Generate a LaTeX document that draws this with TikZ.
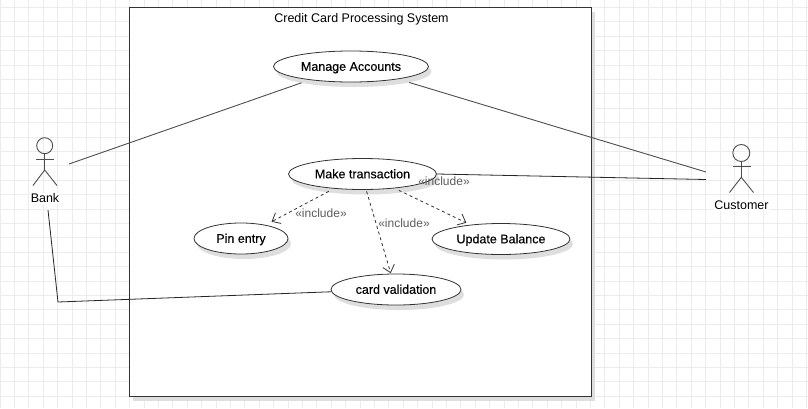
\documentclass[tikz,border=0pt]{standalone}
\usepackage{fontspec}
\setmainfont{Liberation Sans}
\newfontfamily\casefont[FakeBold=0.35]{Liberation Sans}
\usepackage{tikz}
\usetikzlibrary{shapes.geometric,arrows.meta,shadows}
\usepackage{xcolor}
\definecolor{Ink}{RGB}{51,51,51}
\definecolor{SoftInk}{RGB}{78,78,78}
\definecolor{GridLn}{RGB}{236,236,236}
\definecolor{ShadowGr}{RGB}{222,222,222}
\tikzset{
  softshadow/.style={general shadow={shadow xshift=3pt,shadow yshift=-4pt,fill=ShadowGr}},
  caseshadow/.style={general shadow={shadow xshift=3pt,shadow yshift=-5pt,fill=ShadowGr}},
  ucase/.style={ellipse,draw=Ink,fill=white,thick,inner sep=0pt,font=\casefont\fontsize{12.5}{14}\selectfont,
                text height=8.6pt,text depth=0pt,minimum height=31pt,caseshadow},
  ulabel/.style={font=\fontsize{12.5}{14}\selectfont,fill=white,inner sep=1pt},
  inclabel/.style={font=\fontsize{12}{14}\selectfont,text=Ink!80,inner sep=0pt},
  uline/.style={SoftInk,line width=0.9pt},
  ulink/.style={black!85,line width=0.8pt},
  uinc/.style={-{Straight Barb[length=7pt,width=12pt]},Ink,line width=0.8pt,dash pattern=on 3pt off 3pt},
  uactor/.style={SoftInk,line width=0.9pt},
}
\begin{document}
\begin{tikzpicture}[x=1pt,y=-1pt]
  \useasboundingbox (0,0) rectangle (808,408);
  \fill[white] (0,0) rectangle (808,408);
  \foreach \gx in {0,...,56} \draw[GridLn,line width=0.7pt] (14.4*\gx,0) -- (14.4*\gx,408);
  \foreach \gy in {0,...,28} \draw[GridLn,line width=0.7pt] (0,7.4+14.4*\gy) -- (808,7.4+14.4*\gy);
  %
  \node[rectangle,draw=Ink,thick,fill=white,softshadow,minimum width=462pt,minimum height=389pt,
        inner sep=0pt] (system) at (360.6,202) {};
  \node[font=\fontsize{12.5}{14}\selectfont,inner sep=0pt] (title) at (361.5,19.3) {Credit Card Processing System};
  %
  \node[ucase,minimum width=155pt] (manage) at (351,66.5) {Manage Accounts};
  \node[ucase,minimum width=148pt] (make) at (362.5,174) {Make transaction};
  \node[ucase,minimum width=94pt] (pin) at (241,238.5) {Pin entry};
  \node[ucase,minimum width=138pt] (update) at (501,239) {Update Balance};
  \node[ucase,minimum width=130pt] (card) at (396,289.5) {card validation};
  %
  % Bank
  \node[circle,draw=SoftInk,line width=0.9pt,minimum size=16pt,inner sep=0pt] (bankhead) at (44.7,145.7) {};
  \coordinate (bankhip) at (44.7,170);
  \coordinate (bankarml) at (36,159.3);
  \coordinate (bankarmr) at (53.5,159.3);
  \coordinate (banklegl) at (33,185.5);
  \coordinate (banklegr) at (57,185.5);
  \draw[uactor] (bankhead.south) -- (bankhip);
  \draw[uactor] (bankarml) -- (bankarmr);
  \draw[uactor] (banklegl) -- (bankhip) -- (banklegr);
  \node[ulabel] (bank) at (45,198.3) {Bank};
  %
  % Customer
  \node[circle,draw=SoftInk,line width=0.9pt,minimum size=17pt,inner sep=0pt] (custhead) at (741.3,153) {};
  \coordinate (custhip) at (741.3,177.3);
  \coordinate (custarml) at (733,166.7);
  \coordinate (custarmr) at (750.5,166.7);
  \coordinate (custlegl) at (729.5,192.5);
  \coordinate (custlegr) at (753.5,192.5);
  \draw[uactor] (custhead.south) -- (custhip);
  \draw[uactor] (custarml) -- (custarmr);
  \draw[uactor] (custlegl) -- (custhip) -- (custlegr);
  \node[ulabel] (customer) at (741.5,205.3) {Customer};
  %
  \coordinate (banka) at (69,164);
  \coordinate (bankb) at (48,210);
  \coordinate (bankc) at (58,302);
  \coordinate (custa) at (706,172);
  \coordinate (custb) at (706,179.5);
  \draw[uline,shorten >=8.5pt] (banka) -- (manage.198);
  \draw[uline,shorten <=11.4pt] (manage.345.4) -- (custa);
  \draw[ulink] (make.east) -- (custb);
  \draw[ulink] (bankb) -- (bankc) -- (card.182);
  %
  \draw[uinc,shorten <=5.6pt,shorten >=6.8pt] (make.207.6) -- (pin.29);
  \draw[uinc,shorten <=1.5pt,shorten >=0.5pt] (make.283) -- (card.108);
  \draw[uinc,shorten <=4.5pt,shorten >=4.5pt] (make.336.7) -- (update.155);
  %
  \node[inclabel] (incpin) at (321,213.3) {«include»};
  \node[inclabel] (inccard) at (404,223.3) {«include»};
  \node[inclabel] (incupd) at (444,181.3) {«include»};
\end{tikzpicture}
\end{document}
